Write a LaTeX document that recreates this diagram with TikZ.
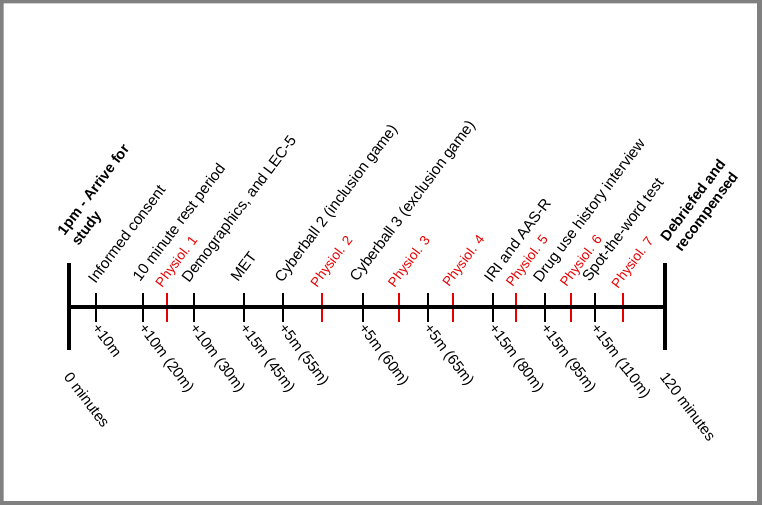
\documentclass[tikz,border=0pt]{standalone}
\usepackage{fontspec}
\setmainfont{Liberation Sans}
\usepackage{xcolor}
\usepackage{tikz}
\usetikzlibrary{positioning}

\definecolor{framegray}{HTML}{808080}
\definecolor{physred}{HTML}{E60000}

\begin{document}
\begin{tikzpicture}[
    x=1pt, y=-1pt,
    endbar/.style={rectangle, fill=black, inner sep=0pt,
                   minimum width=4.5pt, minimum height=87pt},
    tick/.style={rectangle, fill=black, inner sep=0pt,
                 minimum width=1.5pt, minimum height=29pt},
    redtick/.style={tick, fill=physred, minimum width=2pt},
    axis/.style={line width=4pt},
    event/.style={rotate=53, anchor=base west, inner sep=0pt,
                  font=\fontsize{15.2}{18}\selectfont},
    physio/.style={event, text=physred, font=\fontsize{13.5}{16}\selectfont},
    offset/.style={rotate=-53, anchor=north west, inner sep=0pt,
                   font=\fontsize{15}{18}\selectfont},
    milestone/.style={rotate=53, anchor=south west, inner sep=0pt,
                      align=left, font=\fontsize{14.6}{17.5}\selectfont\bfseries},
]

% ── Frame ──
\useasboundingbox (0,0) rectangle (762,505);
\fill[framegray, even odd rule] (0,0) rectangle (762,505)
  (3.5,3.5) rectangle (757,501);

% ── Ticks ──
\node[tick] (consent) at (96,307) {};
\node[tick] (rest) at (143,307) {};
\node[tick] (demog) at (194,307) {};
\node[tick] (met) at (244,307) {};
\node[tick] (cyb2) at (283,307) {};
\node[tick] (cyb3) at (363,307) {};
\node[tick] (pause) at (428,307) {};
\node[tick] (iri) at (493,307) {};
\node[tick] (drug) at (545,307) {};
\node[tick] (spot) at (595,307) {};

\node[redtick] (phys1) at (167,307.5) {};
\node[redtick] (phys2) at (322,307.5) {};
\node[redtick] (phys3) at (399,307.5) {};
\node[redtick] (phys4) at (453,307.5) {};
\node[redtick] (phys5) at (516,307.5) {};
\node[redtick] (phys6) at (571,307.5) {};
\node[redtick] (phys7) at (623,307.5) {};

% ── Time line ──
\node[endbar] (start) at (69,306.5) {};
\node[endbar] (finish) at (665,306.5) {};
\draw[axis] (start.center) -- (finish.center);

% ── Events ──
\node[event] at ([xshift=-0.5pt,yshift=8pt]consent.north) {Informed consent};
\node[event] at ([xshift=-3pt,yshift=9.5pt]rest.north) {10 minute rest period};
\node[event] at ([xshift=-5pt,yshift=8.5pt]demog.north) {Demographics, and LEC-5};
\node[event] at ([xshift=-6pt,yshift=9.5pt]met.north) {MET};
\node[event] at ([xshift=-1pt,yshift=9pt]cyb2.north) {Cyberball 2 (inclusion game)};
\node[event] at ([xshift=-6pt,yshift=9.5pt]cyb3.north) {Cyberball 3 (exclusion game)};
\node[event] at ([xshift=-1.5pt,yshift=9pt]iri.north) {IRI and AAS-R};
\node[event] at ([xshift=-4.5pt,yshift=9pt]drug.north) {Drug use history interview};
\node[event] at ([xshift=-5.5pt,yshift=9.5pt]spot.north) {Spot-the-word test};

% ── Physiological readings ──
\node[physio] at ([xshift=-5pt,yshift=4.5pt]phys1.north) {Physiol. 1};
\node[physio] at ([xshift=-5pt,yshift=4.5pt]phys2.north) {Physiol. 2};
\node[physio] at ([xshift=-4.5pt,yshift=4.5pt]phys3.north) {Physiol. 3};
\node[physio] at ([xshift=-4pt,yshift=5pt]phys4.north) {Physiol. 4};
\node[physio] at ([xshift=-3.5pt,yshift=5pt]phys5.north) {Physiol. 5};
\node[physio] at ([xshift=-4.5pt,yshift=5pt]phys6.north) {Physiol. 6};
\node[physio] at ([xshift=-5pt,yshift=3.5pt]phys7.north) {Physiol. 7};

% ── Elapsed time ──
\node[offset] at ([xshift=4pt,yshift=0pt]consent.south) {+10m};
\node[offset] at ([xshift=4pt,yshift=0pt]rest.south) {+10m (20m)};
\node[offset] at ([xshift=4pt,yshift=0pt]demog.south) {+10m (30m)};
\node[offset] at ([xshift=4pt,yshift=0pt]met.south) {+15m (45m)};
\node[offset] at ([xshift=4pt,yshift=0pt]cyb2.south) {+5m (55m)};
\node[offset] at ([xshift=4pt,yshift=0pt]cyb3.south) {+5m (60m)};
\node[offset] at ([xshift=4pt,yshift=0pt]pause.south) {+5m (65m)};
\node[offset] at ([xshift=4pt,yshift=0pt]iri.south) {+15m (80m)};
\node[offset] at ([xshift=4pt,yshift=0pt]drug.south) {+15m (95m)};
\node[offset] at ([xshift=4pt,yshift=0pt]spot.south) {+15m (110m)};

% ── Start and end ──
\node[milestone] at ([xshift=12pt,yshift=14pt]start.north) {1pm - Arrive for\\study};
\node[milestone] at ([xshift=19pt,yshift=8pt]finish.north) {Debriefed and\\recompensed};
\node[offset] at ([xshift=3pt,yshift=-20pt]start.south) {0 minutes};
\node[offset] at ([xshift=3pt,yshift=-20pt]finish.south) {120 minutes};

\end{tikzpicture}
\end{document}
